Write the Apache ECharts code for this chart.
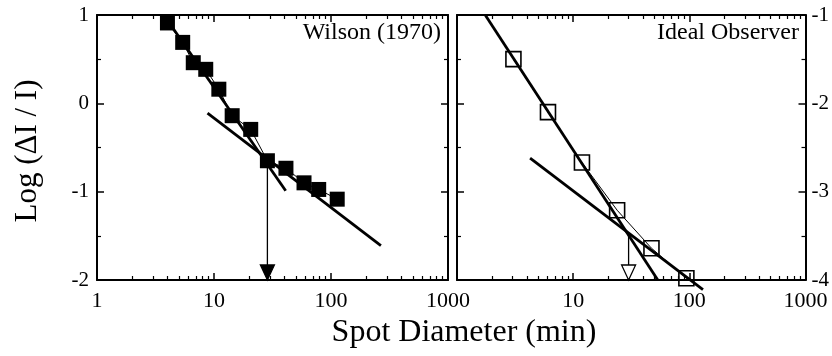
<!DOCTYPE html>
<html>
<head>
<meta charset="utf-8">
<script src="https://cdn.jsdelivr.net/npm/echarts@6/dist/echarts.min.js"></script>
<style>
  html, body { margin: 0; padding: 0; background: #fff; }
  #chart { width: 832px; height: 356px; }
</style>
</head>
<body>
<div id="chart"></div>
<script>
// Wilson (1970) data, log threshold vs spot diameter
const wilsonDiam = [4.0, 5.4, 6.65, 8.5, 11.0, 14.3, 20.6, 28.6, 41.2, 58.8, 78.5, 113];
const wilsonLog = [0.91, 0.69, 0.46, 0.385, 0.16, -0.14, -0.295, -0.65, -0.735, -0.9, -0.975, -1.085];
const wilsonSteep = [[4.0, 0.94], [41, -0.99]];
const wilsonShallow = [[8.8, -0.11], [267, -1.61]];
const wilsonArrow = [[28.6, -0.65], [28.6, -2]];

// ideal observer
const idealDiam = [3.06, 6.07, 11.9, 23.9, 47.2, 94.3];
const idealLog = [-1.5, -2.1, -2.67, -3.21, -3.64, -3.98];
const idealSteep = [[1.75, -1], [53.5, -4]];
const idealShallow = [[4.26, -2.62], [131, -4.11]];
const idealArrow = [[30, -3.47], [30, -4]];

// minor ticks of the log axis (2..9 in every decade)
const minorX = [2, 3, 4, 5, 6, 7, 8, 9, 20, 30, 40, 50, 60, 70, 80, 90, 200, 300, 400, 500, 600, 700, 800, 900];

const serif = "Liberation Serif";
const lineCol = "#000";

function xAxes(grid, pos, labels, hideMin) {
  return [
    {
      type: "log", gridIndex: grid, position: pos, min: 1, max: 1000, logBase: 10,
      axisLine: { show: true, onZero: false, lineStyle: { color: lineCol, width: 2 } },
      axisTick: { show: true, inside: true, length: 7, lineStyle: { color: lineCol, width: 1.5 } },
      axisLabel: {
        show: labels, showMinLabel: !hideMin, margin: 10, color: "#000", fontFamily: serif, fontSize: 22,
        formatter: v => String(Number(v.toPrecision(3)))
      },
      splitLine: { show: false }
    },
    {
      // tick-only axis in log10 space for the minor ticks
      type: "value", gridIndex: grid, position: pos, min: 0, max: 3,
      axisLine: { show: false, onZero: false },
      axisTick: { show: true, inside: true, length: 4, customValues: minorX.map(Math.log10), lineStyle: { color: lineCol, width: 1.2 } },
      axisLabel: { show: false },
      splitLine: { show: false }
    }
  ];
}

function yAxis(grid, pos, min, max, labels) {
  return {
    type: "value", gridIndex: grid, position: pos, min: min, max: max, interval: 1,
    axisLine: { show: true, onZero: false, lineStyle: { color: lineCol, width: 2 } },
    axisTick: { show: true, inside: true, length: 7, lineStyle: { color: lineCol, width: 1.5 } },
    minorTick: { show: true, splitNumber: 2, length: 4, lineStyle: { color: lineCol, width: 1.2 } },
    axisLabel: { show: labels, margin: pos === "left" ? 8 : 6, color: "#000", fontFamily: serif, fontSize: 21 },
    splitLine: { show: false }
  };
}

function fit(data, xi, yi) {
  return {
    type: "line", xAxisIndex: xi, yAxisIndex: yi, data: data, symbol: "none", clip: false,
    lineStyle: { color: lineCol, width: 2.8 }, z: 3, silent: true
  };
}

function arrow(data, xi, yi, filled) {
  return {
    type: "line", xAxisIndex: xi, yAxisIndex: yi, clip: false, silent: true, z: 4,
    lineStyle: { color: lineCol, width: 1.3 },
    data: [
      { value: data[0], symbol: "none" },
      { value: data[1], symbol: "triangle", symbolSize: [14, 15], symbolRotate: 180, symbolOffset: [0, -7.5],
        itemStyle: { color: filled ? "#000" : "#fff", borderColor: "#000", borderWidth: 1.3 } }
    ]
  };
}

const chart = echarts.init(document.getElementById("chart"), null, { renderer: "canvas" });
chart.setOption({
  animation: false,
  backgroundColor: "#fff",
  grid: [
    { left: 97, top: 15, width: 351, height: 265 },
    { left: 457, top: 15, width: 352, height: 265 }
  ],
  // x axes: 0,1 bottom left | 2,3 top left | 4,5 bottom right | 6,7 top right
  xAxis: [].concat(
    xAxes(0, "bottom", true, false),
    xAxes(0, "top", false, false),
    xAxes(1, "bottom", true, true),
    xAxes(1, "top", false, false)
  ),
  yAxis: [
    yAxis(0, "left", -2, 1, true),
    yAxis(0, "right", -2, 1, false),
    yAxis(1, "left", -4, -1, false),
    yAxis(1, "right", -4, -1, true)
  ],
  series: [
    fit(wilsonSteep, 0, 0),
    fit(wilsonShallow, 0, 0),
    arrow(wilsonArrow, 0, 0, true),
    {
      name: "Wilson (1970)", type: "line", xAxisIndex: 0, yAxisIndex: 0, z: 5,
      data: wilsonDiam.map((d, i) => [d, wilsonLog[i]]),
      symbol: "rect", symbolSize: 15,
      lineStyle: { color: lineCol, width: 1 },
      itemStyle: { color: "#000" }
    },
    fit(idealSteep, 4, 3),
    fit(idealShallow, 4, 3),
    arrow(idealArrow, 4, 3, false),
    {
      name: "Ideal Observer", type: "line", xAxisIndex: 4, yAxisIndex: 3, z: 5,
      data: idealDiam.map((d, i) => [d, idealLog[i]]),
      symbol: "rect", symbolSize: 15,
      lineStyle: { color: lineCol, width: 1 },
      itemStyle: { color: "rgba(0,0,0,0)", borderColor: "#000", borderWidth: 1.6 }
    }
  ],
  graphic: [
    { type: "text", x: 441, y: 45, style: { text: "Wilson (1970)", font: "24px " + serif, fill: "#000", textAlign: "right", textVerticalAlign: "bottom" } },
    { type: "text", x: 799, y: 45, style: { text: "Ideal Observer", font: "24px " + serif, fill: "#000", textAlign: "right", textVerticalAlign: "bottom" } },
    { type: "text", x: 28, y: 151, rotation: Math.PI / 2, style: { text: "Log (ΔI / I)", font: "31px " + serif, fill: "#000", textAlign: "center", textVerticalAlign: "middle" } },
    { type: "text", x: 464, y: 333, style: { text: "Spot Diameter (min)", font: "32px " + serif, fill: "#000", textAlign: "center", textVerticalAlign: "middle" } }
  ]
});
</script>
</body>
</html>
